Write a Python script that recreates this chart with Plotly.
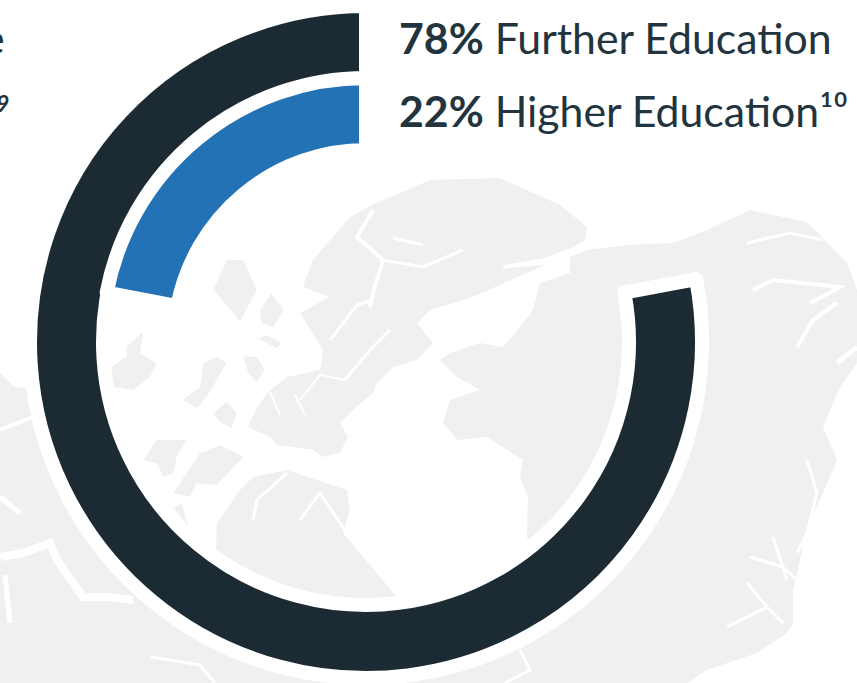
import plotly.graph_objects as go

W, H = 857, 683
categories = ["Further Education", "Higher Education"]
further_share = 78
higher_share = 22
rest_further = 100 - further_share
rest_higher = 100 - higher_share
label_further = "<b>78%</b> Further Education"
label_higher = "<b>22%</b> Higher Education¹⁰"

DARK, BLUE, GREY, TEXT = "#1c2b33", "#2472b6", "#eff0f0", "#22343e"
NONE = "rgba(0,0,0,0)"
FILL_W = 14


def X(x):
    return x / W


def Y(y):
    return 1 - y / H


def path(pts, close=True):
    s = "M " + " L ".join(f"{X(x):.5f},{Y(y):.5f}" for x, y in pts)
    return s + (" Z" if close else "")


def c4(pts):
    return [(x / 3, y / 3 + 200) for x, y in pts]


land = [
    [(0, 373), (15, 387), (27, 388), (80, 390), (100, 430), (150, 520), (215, 570), (217, 523), (240, 490), (253, 477), (287, 470),
     (317, 480), (347, 490), (350, 510), (343, 533), (397, 597), (400, 620), (465, 612), (540, 570), (527, 537), (528, 497),
     (520, 477), (523, 460), (487, 437), (457, 440), (443, 423), (450, 400), (480, 390), (457, 377), (440, 360),
     (450, 353), (480, 343), (503, 347), (520, 327), (533, 310), (540, 283), (570, 273), (570, 257), (587, 250),
     (627, 245), (673, 243), (707, 230), (750, 210), (807, 222), (847, 263), (857, 290), (857, 363),
     (840, 387), (823, 427), (837, 460), (823, 493), (807, 527), (793, 593), (793, 623), (787, 633), (757, 653), (707, 670),
     (687, 683), (0, 683)],
    [(313, 260), (350, 217), (372, 205), (430, 180), (500, 178), (560, 205), (587, 227), (585, 240), (573, 247), (545, 258),
     (505, 265), (545, 265), (500, 285), (470, 298), (447, 305), (430, 310), (417, 323), (433, 343), (417, 360),
     (393, 367), (377, 383), (373, 393), (353, 410), (340, 423), (348, 437), (340, 453), (323, 457), (313, 450),
     (277, 445), (270, 437), (248, 427), (257, 407), (270, 390), (287, 377), (320, 370), (323, 350), (300, 313),
     (330, 297), (303, 287)],
    c4([(640, 270), (680, 180), (730, 180), (770, 270), (720, 365), (700, 340)]),
    c4([(780, 330), (815, 280), (850, 330), (820, 380), (785, 370)]),
    c4([(730, 470), (770, 470), (795, 510), (770, 545), (745, 520)]),
    c4([(775, 415), (800, 405), (845, 430), (830, 445)]),
    c4([(640, 640), (680, 605), (710, 640), (695, 685), (660, 665)]),
    c4([(550, 600), (600, 560), (610, 490), (650, 470), (680, 490), (620, 590), (590, 625)]),
    c4([(330, 505), (380, 470), (380, 440), (430, 395), (420, 460), (470, 490), (450, 530), (400, 570), (340, 560)]),
    c4([(430, 780), (470, 720), (560, 720), (530, 770), (520, 820), (490, 830), (470, 790)]),
    c4([(520, 880), (600, 760), (660, 735), (730, 770), (650, 855), (590, 850), (570, 890)]),
    c4([(520, 925), (545, 910), (565, 980)]),
]

fjords = [
    ([(373, 210), (357, 237), (383, 260), (373, 293), (370, 307)], 4),
    ([(383, 260), (423, 267), (463, 250)], 3),
    ([(393, 238), (423, 245)], 3),
    ([(503, 267), (547, 263), (583, 250)], 3),
    ([(747, 243), (790, 233), (823, 240)], 3),
    ([(753, 290), (773, 280), (840, 287), (810, 303)], 4),
    ([(797, 347), (813, 320), (837, 303)], 4),
    ([(837, 363), (857, 347)], 5),
    ([(330, 340), (357, 305), (372, 300)], 3),
    ([(345, 380), (370, 350), (390, 330)], 3),
    ([(300, 400), (320, 375), (345, 380)], 2),
    ([(270, 392), (280, 415)], 2),
    ([(295, 395), (305, 415)], 2),
    ([(0, 430), (33, 417)], 4),
    ([(0, 497), (20, 513)], 5),
    ([(0, 557), (23, 553), (50, 543), (57, 560), (83, 597), (110, 597), (133, 600)], 8),
    ([(5, 575), (10, 623)], 5),
    ([(150, 657), (200, 665), (215, 683)], 3),
    ([(253, 520), (257, 500), (287, 473)], 3),
    ([(300, 520), (320, 493), (347, 533), (380, 573)], 3),
    ([(727, 627), (767, 607), (783, 623)], 3),
    ([(767, 607), (747, 583)], 3),
    ([(750, 557), (783, 567), (797, 580)], 3),
    ([(773, 537), (787, 580)], 3),
    ([(807, 460), (817, 493), (807, 533), (797, 553)], 3),
    ([(520, 650), (530, 670), (505, 683)], 3),
]

shapes = [dict(type="path", path=path(p), fillcolor=GREY, line=dict(width=0), layer="below",
               xref="paper", yref="paper") for p in land]
shapes += [dict(type="path", path=path(p, close=False), fillcolor=NONE, line=dict(color="white", width=w),
                layer="below", xref="paper", yref="paper") for p, w in fjords]

fig = go.Figure()
fig.add_trace(go.Pie(
    labels=["Rest", categories[0]], values=[rest_further, further_share], sort=False, direction="clockwise", rotation=0,
    hole=263 / 336, textinfo="none", hoverinfo="skip", showlegend=False,
    domain=dict(x=[X(30), X(702)], y=[Y(678), Y(6)]),
    marker=dict(colors=[NONE, DARK], line=dict(color="white", width=[0, FILL_W])),
))
fig.add_trace(go.Pie(
    labels=["Rest", categories[1]], values=[rest_higher, higher_share], sort=False, direction="clockwise", rotation=0,
    hole=192 / 264, textinfo="none", hoverinfo="skip", showlegend=False,
    domain=dict(x=[X(102), X(630)], y=[Y(606), Y(78)]),
    marker=dict(colors=[NONE, BLUE], line=dict(color="white", width=[0, FILL_W])),
))

big = dict(family="Lato", color=TEXT, size=42.8)
ann = dict(xref="paper", yref="paper", showarrow=False)
annotations = [
    dict(ann, text=label_further, x=X(397), y=Y(37.5), xanchor="left", yanchor="middle", font=big),
    dict(ann, text=label_higher, x=X(397), y=Y(111), xanchor="left", yanchor="middle", font=big),
    dict(ann, text="e", x=X(7), y=Y(37.5), xanchor="right", yanchor="middle", font=big),
    dict(ann, text="<b><i>9</i></b>", x=X(11), y=Y(103), xanchor="right", yanchor="middle",
         font=dict(family="Lato", color=TEXT, size=23)),
]

fig.update_layout(width=W, height=H, margin=dict(l=0, r=0, t=0, b=0), paper_bgcolor="white",
                  plot_bgcolor="white", shapes=shapes, annotations=annotations)
fig.write_html("out.html", config=dict(displayModeBar=False),
               post_script="document.body.style.margin='0';document.body.style.overflow='hidden';")
